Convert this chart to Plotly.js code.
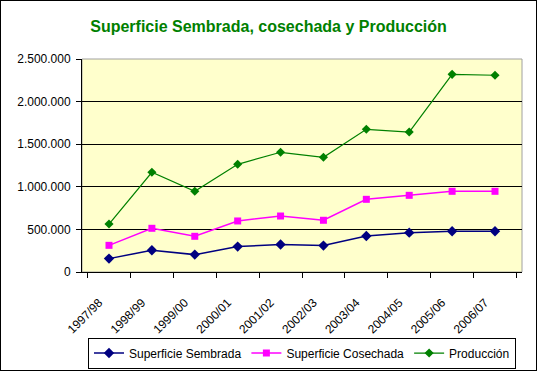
<!DOCTYPE html>
<html><head><meta charset="utf-8">
<script src="https://cdn.plot.ly/plotly-3.0.1.min.js"></script>
<style>html,body{margin:0;padding:0;background:#fff}#c{width:535px;height:369px;border:1px solid #000}</style>
</head><body><div id="c"></div>
<script>
const categories = ["1997/98","1998/99","1999/00","2000/01","2001/02","2002/03","2003/04","2004/05","2005/06","2006/07"];
const sembrada = [157000,255000,204000,298000,322000,310000,423000,462000,478000,478000];
const cosechada = [313000,513000,419000,599000,657000,607000,853000,900000,947000,947000];
const produccion = [563000,1170000,947000,1264000,1405000,1346000,1675000,1643000,2320000,2309000];
const yTicks = [0,500000,1000000,1500000,2000000,2500000];

const F = "Arial, 'Liberation Sans', sans-serif";
const traces = [
  {x: categories, y: sembrada, name: "Superficie Sembrada", type: "scatter", mode: "lines+markers",
   line: {color: "#000080", width: 1.5}, marker: {symbol: "diamond", size: 8, color: "#000080"}},
  {x: categories, y: cosechada, name: "Superficie Cosechada", type: "scatter", mode: "lines+markers",
   line: {color: "#FF00FF", width: 1.5}, marker: {symbol: "square", size: 7, color: "#FF00FF"}},
  {x: categories, y: produccion, name: "Producción", type: "scatter", mode: "lines+markers",
   line: {color: "#008000", width: 1.2}, marker: {symbol: "diamond", size: 7, color: "#008000"}}
];
const layout = {
  width: 535, height: 369,
  margin: {l: 81, r: 14, t: 58, b: 98, autoexpand: false},
  paper_bgcolor: "#ffffff", plot_bgcolor: "#FFFFCC",
  separators: ",.",
  font: {family: F, size: 12, color: "#000"},
  title: {text: "Superficie Sembrada, cosechada y Producción", font: {family: F, size: 16, color: "#008000", weight: "bold"},
          x: 0.5, xanchor: "center", y: 0.93, yanchor: "middle"},
  xaxis: {type: "category", tickson: "boundaries", ticks: "outside", ticklen: 5, tickcolor: "#000",
          showline: true, linecolor: "#000", linewidth: 1, showgrid: false, tickangle: -45, automargin: false,
          tickfont: {family: F, size: 12, color: "#000"}, ticklabelstandoff: 18, ticklabelshift: -10, fixedrange: true},
  yaxis: {range: [0, 2500000], tickvals: yTicks, tickformat: ",.0f", ticks: "outside", ticklen: 5, tickcolor: "#000",
          showline: true, linecolor: "#000", linewidth: 1, showgrid: true, gridcolor: "#000", gridwidth: 1, automargin: false,
          zeroline: false, tickfont: {family: F, size: 12, color: "#000"}, ticklabelstandoff: 3},
  shapes: [{type: "rect", xref: "paper", yref: "paper", x0: 0, x1: 1, y0: 0, y1: 1, line: {color: "#a0a0a0", width: 1}, layer: "below"}],
  showlegend: true,
  legend: {orientation: "h", x: 0.5, xanchor: "center", yref: "container", y: 0.088, yanchor: "top", itemwidth: 30,
           bordercolor: "#000", borderwidth: 1, bgcolor: "#fff", font: {family: F, size: 12, color: "#000"}}
};
Plotly.newPlot("c", traces, layout, {displayModeBar: false, staticPlot: true});
</script></body></html>
